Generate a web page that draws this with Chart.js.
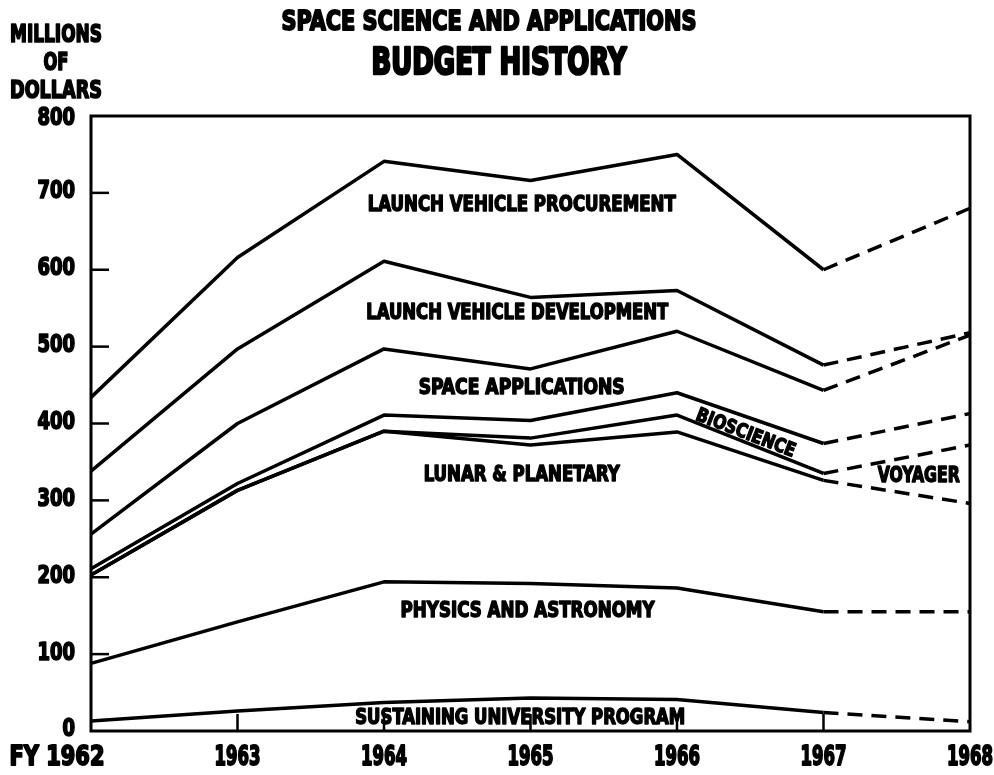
<!DOCTYPE html>
<html>
<head>
<meta charset="utf-8">
<title>Space Science and Applications Budget History</title>
<script src="https://cdn.jsdelivr.net/npm/chart.js@4.4.1/dist/chart.umd.min.js"></script>
<style>
    html, body { margin: 0; padding: 0; background: #fff; }
    #budgetChart { display: block; }
</style>
</head>
<body>
<canvas id="budgetChart" width="994" height="775"></canvas>
<script>
// 财年与纵轴刻度
const years = ['FY 1962', '1963', '1964', '1965', '1966', '1967', '1968'];
const yTicks = [0, 100, 200, 300, 400, 500, 600, 700, 800];

// 各项目预算（百万美元），自下而上堆叠
const university   = [13, 26, 37, 43, 41, 24, 12];
const physics      = [75, 116, 157, 149, 145, 131, 143];
const lunar        = [115, 171, 196, 180, 203, 171, 141];
const voyager      = [0, 0, 0, 9, 22, 9, 76];
const bioscience   = [8, 9, 21, 23, 29, 39, 41];
const applications = [45, 78, 86, 67, 80, 69, 102];
const lvDevelop    = [82, 97, 114, 93, 53, 33, 3];
const lvProcure    = [96, 119, 130, 152, 177, 124, 162];

const FONT = '"DejaVu Sans Condensed", "Liberation Sans Narrow", "DejaVu Sans", sans-serif';

// 区域内的文字标注（位置用数据坐标）
const bandLabels = [
    { text: 'LAUNCH VEHICLE PROCUREMENT', x: 2.94, y: 685, w: 308, h: 15 },
    { text: 'LAUNCH VEHICLE DEVELOPMENT', x: 2.91, y: 544, w: 302, h: 15 },
    { text: 'SPACE APPLICATIONS', x: 2.94, y: 447, w: 206, h: 15 },
    { text: 'LUNAR & PLANETARY', x: 2.94, y: 333, w: 196, h: 15 },
    { text: 'VOYAGER', x: 5.65, y: 332, w: 82, h: 15 },
    { text: 'PHYSICS AND ASTRONOMY', x: 2.98, y: 156, w: 254, h: 15 },
    { text: 'SUSTAINING UNIVERSITY PROGRAM', x: 2.93, y: 17, w: 330, h: 15 },
    { text: 'BIOSCIENCE', x: 4.47, y: 388, w: 105, h: 14, angle: 21 }
];

// 按宽度压缩绘制文字，模仿粗窄体字
function drawFit(ctx, text, x, y, capH, width, align) {
    const size = capH / 0.73;
    ctx.save();
    ctx.font = 'bold ' + size + 'px ' + FONT;
    ctx.textBaseline = 'middle';
    ctx.textAlign = 'left';
    const m = ctx.measureText(text).width;
    const sx = width / m;
    let left = x - width / 2;
    if (align === 'right') left = x - width;
    ctx.translate(left, y);
    ctx.scale(sx, 1);
    ctx.fillStyle = '#000';
    ctx.strokeStyle = '#000';
    ctx.lineWidth = size * 0.07;
    ctx.lineJoin = 'round';
    ctx.fillText(text, 0, 1);
    ctx.strokeText(text, 0, 1);
    ctx.restore();
}

function makeLine(label, data) {
    return {
        label: label,
        data: data,
        borderColor: '#000',
        borderWidth: 3.5,
        pointRadius: 0,
        fill: false,
        tension: 0,
        borderJoinStyle: 'round',
        segment: {
            // 1968 为预算估计，用虚线
            borderDash: ctx => ctx.p0DataIndex >= 5 ? [15, 9] : undefined
        }
    };
}

// 边框、刻度和所有文字
const decorPlugin = {
    id: 'decor',
    afterDraw(chart) {
        const ctx = chart.ctx;
        const area = chart.chartArea;
        const xs = chart.scales.x;
        const ys = chart.scales.y;

        ctx.save();
        ctx.strokeStyle = '#000';
        ctx.lineWidth = 3;
        ctx.strokeRect(area.left, area.top, area.right - area.left, area.bottom - area.top);

        // 纵轴刻度线（朝内）
        ctx.lineWidth = 2.5;
        yTicks.forEach(v => {
            if (v === 0 || v === 800) return;
            const py = ys.getPixelForValue(v);
            ctx.beginPath();
            ctx.moveTo(area.left, py);
            ctx.lineTo(area.left + 18, py);
            ctx.stroke();
        });
        // 横轴刻度线
        years.forEach((y, i) => {
            if (i === 0 || i === years.length - 1) return;
            const px = xs.getPixelForValue(i);
            ctx.beginPath();
            ctx.moveTo(px, area.bottom);
            ctx.lineTo(px, area.bottom - 17);
            ctx.stroke();
        });
        ctx.restore();

        // 纵轴数字
        yTicks.forEach(v => {
            const s = String(v);
            const off = v === 800 ? 4 : 0;
            drawFit(ctx, s, area.left - 16, ys.getPixelForValue(v) - 2 + off, 18, s.length * 12.5, 'right');
        });
        // 横轴年份
        years.forEach((y, i) => {
            let px = xs.getPixelForValue(i);
            let w = y.length * 11.5;
            if (i === 0) { px = 57; w = 95; }
            drawFit(ctx, y, px, area.bottom + 26, 20, w);
        });

        // 标题和单位
        drawFit(ctx, 'SPACE SCIENCE AND APPLICATIONS', 489, 22, 20, 415);
        drawFit(ctx, 'BUDGET HISTORY', 499, 63, 27, 255);
        drawFit(ctx, 'MILLIONS', 56, 35, 18, 92);
        drawFit(ctx, 'OF', 56, 63, 18, 25);
        drawFit(ctx, 'DOLLARS', 56, 91, 18, 92);

        // 各区域名称
        bandLabels.forEach(l => {
            const px = xs.getPixelForValue(l.x);
            const py = ys.getPixelForValue(l.y);
            if (l.angle) {
                ctx.save();
                ctx.translate(px, py);
                ctx.rotate(l.angle * Math.PI / 180);
                drawFit(ctx, l.text, 0, 0, l.h, l.w);
                ctx.restore();
            } else {
                drawFit(ctx, l.text, px, py, l.h, l.w);
            }
        });
    }
};

new Chart(document.getElementById('budgetChart'), {
    type: 'line',
    data: {
        labels: years,
        datasets: [
            makeLine('Sustaining University Program', university),
            makeLine('Physics and Astronomy', physics),
            makeLine('Lunar & Planetary', lunar),
            makeLine('Voyager', voyager),
            makeLine('Bioscience', bioscience),
            makeLine('Space Applications', applications),
            makeLine('Launch Vehicle Development', lvDevelop),
            makeLine('Launch Vehicle Procurement', lvProcure)
        ]
    },
    options: {
        responsive: false,
        animation: false,
        layout: {
            padding: { left: 91, right: 24, top: 116, bottom: 44 }
        },
        plugins: {
            legend: { display: false },
            tooltip: { enabled: false }
        },
        scales: {
            x: { display: false, offset: false },
            y: { display: false, stacked: true, min: 0, max: 800 }
        }
    },
    plugins: [decorPlugin]
});
</script>
</body>
</html>
